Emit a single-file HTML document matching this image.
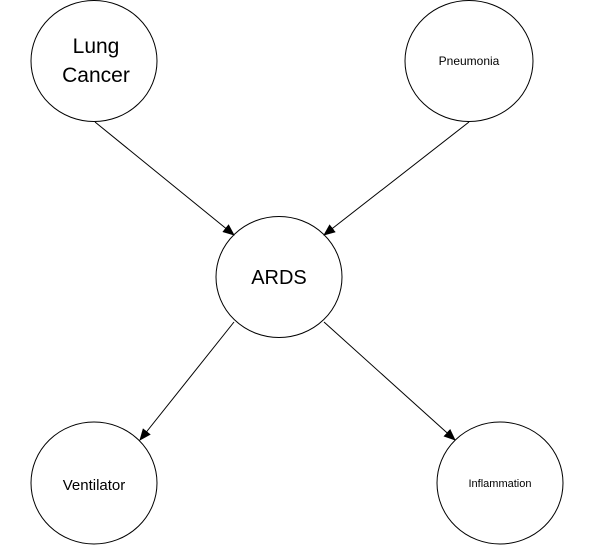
<!DOCTYPE html>
<html><head><style>html,body{margin:0;padding:0;background:#fff}svg{display:block}</style></head>
<body>
<svg width="604" height="545" viewBox="0 0 604 545" xmlns="http://www.w3.org/2000/svg" font-family="Liberation Sans, sans-serif">
<defs><marker id="a" markerWidth="12" markerHeight="10" refX="11" refY="5" orient="auto" markerUnits="userSpaceOnUse"><path d="M0,0 L12,5 L0,10 z" fill="#000"/></marker></defs>
<g fill="#fff" stroke="#000" stroke-width="1">
<ellipse cx="94" cy="61" rx="63" ry="60.5"/>
<ellipse cx="469" cy="61" rx="64" ry="60.5"/>
<ellipse cx="279" cy="277" rx="63" ry="60.5"/>
<ellipse cx="94" cy="483" rx="63" ry="61"/>
<ellipse cx="500" cy="483" rx="63" ry="61"/>
</g>
<g stroke="#000" stroke-width="1" marker-end="url(#a)">
<line x1="95" y1="122" x2="234" y2="235"/>
<line x1="469" y1="122" x2="324" y2="235"/>
<line x1="234" y1="322" x2="140" y2="440"/>
<line x1="324" y1="322" x2="455" y2="440"/>
</g>
<g text-anchor="middle" fill="#000">
<text x="96" y="53" font-size="21">Lung</text>
<text x="96" y="82" font-size="21">Cancer</text>
<text x="469" y="65" font-size="12">Pneumonia</text>
<text x="279" y="284" font-size="20">ARDS</text>
<text x="94" y="490" font-size="15">Ventilator</text>
<text x="500" y="487" font-size="11">Inflammation</text>
</g>
</svg>
</body></html>
